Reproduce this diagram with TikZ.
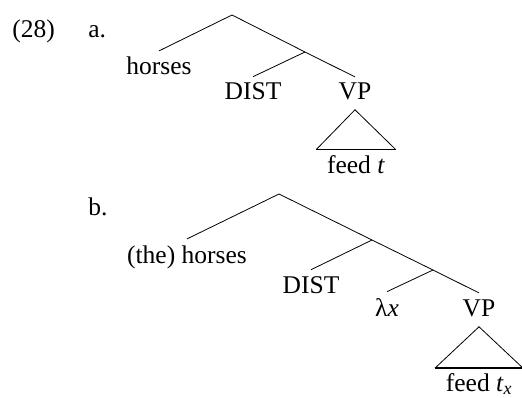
\documentclass[tikz,border=0pt]{standalone}
\usepackage{fontspec}
\setmainfont{Liberation Serif}
\usetikzlibrary{positioning}

\tikzset{
  lbl/.style={anchor=base, inner xsep=0pt, inner ysep=6pt,
    font=\fontsize{25.5}{30}\selectfont},
  leaf/.style={lbl, inner xsep=10.5pt},
}

\begin{document}
\begin{tikzpicture}[x=1pt, y=-1pt, line width=0.8pt]
  \useasboundingbox (0,0) rectangle (522,398);

  % example number and sub-labels
  \node[lbl, anchor=base west] (exnum) at (12,38) {(28)};
  \node[lbl, anchor=base west] (subA) at (88,38) {a.};
  \node[lbl, anchor=base west] (subB) at (88,216) {b.};

  % tree a
  \coordinate (rootA) at (232,15);
  \coordinate (midA) at (305,52);
  \node[lbl] (horsesA) at (159,75) {horses};
  \node[lbl] (distA) at (253,100) {DIST};
  \node[lbl] (vpA) at (355,100) {VP};
  \node[leaf] (feedA) at (356,174) {feed \textit{t}};
  \coordinate[below=3pt of vpA] (apexA);

  \draw (horsesA.north) -- (rootA) -- (midA) -- (vpA.north);
  \draw (distA.north) -- (midA);
  \draw (feedA.north west) -- (apexA) -- (feedA.north east);
  \draw[line width=1.6pt] (feedA.north west) -- (feedA.north east);

  % tree b
  \coordinate (rootB) at (279,194);
  \coordinate (midB) at (372,240);
  \coordinate (lowB) at (433,270);
  \node[lbl] (horsesB) at (187,263) {(the) horses};
  \node[lbl] (distB) at (311,293) {DIST};
  \node[lbl] (lamB) at (387,316) {λ\textit{x}};
  \node[lbl] (vpB) at (479,316) {VP};
  \node[leaf, inner ysep=4.5pt] (feedB) at (479,391) {feed \textit{t}\textsubscript{\textit{x}}};
  \coordinate[below=4pt of vpB] (apexB);

  \draw (horsesB.north) -- (rootB) -- (midB) -- (lowB) -- (vpB.north);
  \draw (distB.north) -- (midB);
  \draw (lamB.north) -- (lowB);
  \draw (feedB.north west) -- (apexB) -- (feedB.north east);
  \draw[line width=1.6pt] (feedB.north west) -- (feedB.north east);
\end{tikzpicture}
\end{document}
